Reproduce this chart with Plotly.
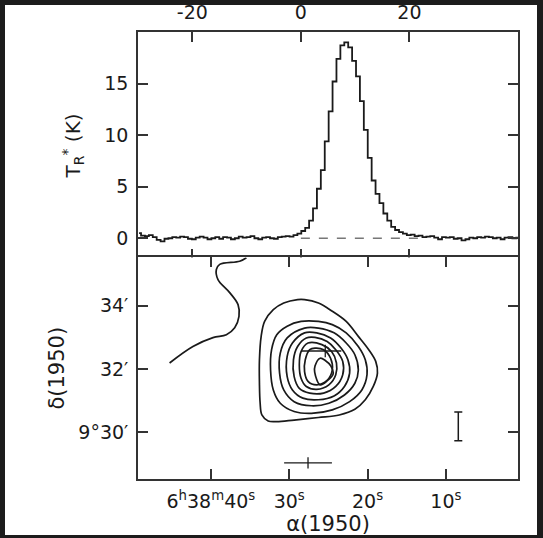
import numpy as np
import plotly.graph_objects as go

# spectrum: radiation temperature per channel, channel 0 at -29.8 km/s, 0.72 km/s wide
v_start = -29.8
dv = 0.72
tr = [0.5, 0.25, 0.2, 0.3, 0.1, -0.15, -0.3, -0.05, 0.0, 0.1,
      0.05, 0.15, 0.1, -0.05, -0.1, 0.05, 0.15, 0.05, -0.1, 0.0,
      0.1, -0.05, 0.1, 0.05, -0.1, 0.0, 0.15, 0.05, 0.1, 0.2,
      0.0, -0.1, 0.05, 0.1, 0.0, -0.05, 0.1, 0.15, 0.2, 0.15,
      0.3, 0.45, 0.7, 1.0, 1.7, 2.9, 4.8, 6.6, 9.4, 12.3,
      15.2, 17.4, 18.7, 19.0, 18.5, 17.2, 15.7, 13.3, 10.5, 7.8,
      5.6, 4.3, 3.4, 2.4, 1.7, 1.1, 0.8, 0.6, 0.45, 0.3,
      0.35, 0.2, 0.25, 0.1, 0.15, 0.2, 0.05, -0.1, 0.1, 0.05,
      0.1, -0.05, 0.0, -0.2, -0.1, 0.05, 0.0, 0.1, 0.05, 0.15,
      0.1, 0.0, 0.05, -0.1, 0.05, 0.1, 0.0, 0.05]
vel = v_start + dv * np.arange(len(tr))
base_v = [0, 22]

# contour map (RA seconds past 6h38m, Dec arcmin past 9 deg)
c1_ra = [28.93, 30.70, 32.03, 33.14, 33.58, 33.80, 33.80, 33.71, 33.49, 32.69, 31.59, 29.37,
         26.27, 23.61, 21.62, 20.29, 19.27, 18.74, 18.96, 19.85, 21.18, 22.73, 24.50, 26.27, 28.04]
c1_de = [34.19, 34.08, 33.87, 33.50, 33.03, 32.29, 31.55, 30.92, 30.55, 30.36, 30.34, 30.39,
         30.47, 30.55, 30.73, 31.03, 31.45, 31.87, 32.24, 32.61, 33.03, 33.50, 33.82, 34.08, 34.19]
c2_ra = [28.49, 30.26, 31.59, 32.25, 32.38, 32.03, 31.14, 29.37, 27.16, 24.50, 22.29, 20.73,
         20.07, 20.29, 21.18, 22.73, 24.50, 26.27]
c2_de = [33.50, 33.35, 33.08, 32.61, 31.97, 31.34, 30.92, 30.66, 30.60, 30.71, 30.97, 31.34,
         31.82, 32.29, 32.71, 33.14, 33.40, 33.50]
c3_ra = [28.04, 30.26, 31.14, 31.23, 30.70, 29.37, 27.16, 24.94, 22.95, 21.62, 21.18, 21.62,
         22.73, 24.28, 26.27]
c3_de = [33.29, 32.98, 32.50, 31.87, 31.34, 30.97, 30.84, 30.92, 31.18, 31.55, 31.97, 32.45,
         32.82, 33.14, 33.29]
c4_ra = [28.04, 29.59, 30.26, 30.26, 29.59, 28.26, 26.27, 24.28, 22.95, 22.29, 22.51, 23.39,
         24.72, 26.49]
c4_de = [33.14, 32.82, 32.40, 31.76, 31.34, 31.08, 31.03, 31.15, 31.45, 31.87, 32.29, 32.66,
         32.98, 33.14]
c5_ra = [27.82, 28.93, 29.46, 29.37, 28.71, 27.38, 25.61, 24.06, 23.17, 23.17, 24.06, 25.16, 26.71]
c5_de = [32.98, 32.71, 32.29, 31.76, 31.39, 31.24, 31.24, 31.45, 31.82, 32.24, 32.61, 32.87, 33.00]
c6_ra = [27.60, 28.49, 28.71, 28.49, 27.82, 26.49, 24.94, 24.06, 23.97, 24.59, 25.83]
c6_de = [32.82, 32.55, 32.13, 31.71, 31.45, 31.36, 31.50, 31.82, 32.19, 32.55, 32.77]
c7_ra = [27.38, 27.95, 28.04, 27.60, 26.49, 25.16, 24.50, 24.72, 25.61, 26.71]
c7_de = [32.61, 32.29, 31.92, 31.61, 31.50, 31.64, 31.97, 32.34, 32.61, 32.66]
c8_ra = [26.05, 26.70, 26.75, 26.05, 25.10, 24.40, 24.70, 25.40]
c8_de = [32.34, 32.10, 31.90, 31.50, 31.64, 31.84, 32.10, 32.27]
edge_ra = [35.46, 36.32, 38.87, 39.30, 39.09, 37.60, 36.53, 36.41, 36.96, 38.02, 39.73, 42.29, 45.27]
edge_de = [35.51, 35.40, 35.30, 35.14, 34.82, 34.41, 34.03, 33.66, 33.30, 33.08, 32.99, 32.71, 32.19]

# peak position with its error, beam/resolution bars
peak_ra, peak_de = [25.4], [32.57]
peak_err_plus, peak_err_minus = [3.05], [2.05]
res_ra, res_de, res_err = [27.6], [29.04], [3.05]
cal_ra, cal_de, cal_err = [8.42], [30.19], [0.45]

ink = "#1a1a1a"
fig = go.Figure()
fig.add_trace(go.Scatter(x=vel, y=tr, mode="lines", line=dict(color=ink, width=1.8, shape="hvh"),
                         xaxis="x", yaxis="y"))
fig.add_trace(go.Scatter(x=base_v, y=[0, 0], mode="lines",
                         line=dict(color="#777", width=1.5, dash="dash"), xaxis="x", yaxis="y"))

for ra, de in [(c1_ra, c1_de), (c2_ra, c2_de), (c3_ra, c3_de), (c4_ra, c4_de),
               (c5_ra, c5_de), (c6_ra, c6_de), (c7_ra, c7_de), (c8_ra, c8_de)]:
    fig.add_trace(go.Scatter(x=ra + ra[:1], y=de + de[:1], mode="lines",
                             line=dict(color=ink, width=1.7, shape="spline", smoothing=1.0),
                             xaxis="x2", yaxis="y2"))
fig.add_trace(go.Scatter(x=edge_ra, y=edge_de, mode="lines",
                         line=dict(color=ink, width=1.7, shape="spline", smoothing=1.0),
                         xaxis="x2", yaxis="y2"))

fig.add_trace(go.Scatter(x=peak_ra, y=peak_de, mode="markers",
                         marker=dict(symbol="line-ns-open", size=9, color=ink, line=dict(color=ink, width=1.3)),
                         error_x=dict(type="data", symmetric=False, array=peak_err_plus,
                                      arrayminus=peak_err_minus, width=0, color=ink, thickness=1.5),
                         xaxis="x2", yaxis="y2"))
fig.add_trace(go.Scatter(x=res_ra, y=res_de, mode="markers",
                         marker=dict(symbol="line-ns-open", size=8, color=ink, line=dict(color=ink, width=1.3)),
                         error_x=dict(type="data", array=res_err, width=0, color=ink, thickness=1.3),
                         xaxis="x2", yaxis="y2"))
fig.add_trace(go.Scatter(x=cal_ra, y=cal_de, mode="markers", marker=dict(size=1, color="rgba(0,0,0,0)"),
                         error_y=dict(type="data", array=cal_err, width=4, color=ink, thickness=1.5),
                         xaxis="x2", yaxis="y2"))

axis_style = dict(showline=True, linecolor="#333", linewidth=1.5, mirror="ticks", ticks="inside",
                  ticklen=10, tickwidth=1.5, tickcolor="#333", showgrid=False, zeroline=False,
                  tickfont=dict(size=19, color=ink), ticklabelstandoff=4, automargin=False)

fig.update_layout(
    width=543, height=538,
    margin=dict(l=138, r=25, t=32, b=59),
    paper_bgcolor="#1c1c1c", plot_bgcolor="white",
    showlegend=False,
    font=dict(family="DejaVu Sans", color=ink, size=19),
    xaxis=dict(axis_style, range=[-30, 40], tickvals=[-20, 0, 20], ticktext=["-20", "0", "20"],
               side="top", anchor="y"),
    yaxis=dict(axis_style, range=[-2, 20], tickvals=[0, 5, 10, 15], domain=[0.4925, 1], anchor="x",
               title=dict(text="T<sub>R</sub><sup>*</sup> (K)", standoff=18, font=dict(size=20))),
    xaxis2=dict(axis_style, range=[49.3, 0.8], tickvals=[40, 30, 20, 10],
                ticktext=["6<sup>h</sup>38<sup>m</sup>40<sup>s</sup>", "30<sup>s</sup>",
                          "20<sup>s</sup>", "10<sup>s</sup>"], anchor="y2",
                title=dict(text="α(1950)", standoff=6, font=dict(size=21))),
    yaxis2=dict(axis_style, range=[28.53, 35.52], tickvals=[30, 32, 34],
                ticktext=["9°30′", "32′", "34′"], domain=[0, 0.4957], anchor="x2",
                title=dict(text="δ(1950)", standoff=8, font=dict(size=21))),
    shapes=[dict(type="rect", xref="paper", yref="paper", x0=-0.35, x1=1.05, y0=-0.1253, y1=1.0604,
                 fillcolor="white", line=dict(width=0), layer="below")],
)

fig.write_html("out.html", config={"displayModeBar": False},
               post_script="document.body.style.margin='0px'; document.body.style.overflow='hidden';")
